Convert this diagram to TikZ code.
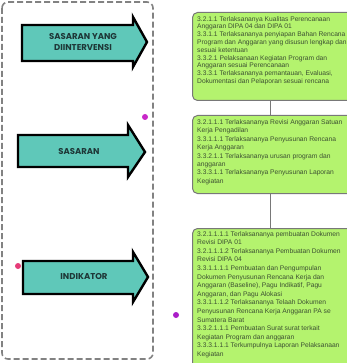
\documentclass[tikz,border=0pt]{standalone}
\usepackage{fontspec}
\setmainfont{Liberation Sans}
\newfontfamily\arrowfont{Poppins}
\usetikzlibrary{calc}
\definecolor{teal1}{RGB}{95,200,185}
\definecolor{gfill}{RGB}{180,243,110}
\definecolor{gline}{RGB}{120,120,120}
\definecolor{gtxt}{RGB}{60,80,50}
\definecolor{atxt}{RGB}{30,55,55}
\definecolor{dashc}{RGB}{130,130,130}
\tikzset{
  arrowbody/.style={fill=teal1,draw=black,line width=2.4pt,line join=miter},
  arrowlabel/.style={font=\arrowfont\bfseries\fontsize{8.5}{11}\selectfont,text=atxt,align=center,inner sep=0pt},
  gbox/.style={draw=gline,fill=gfill,rounded corners=5pt,line width=1pt,minimum width=160pt,inner sep=0pt,anchor=north west},
  gtext/.style={text=gtxt,align=left,inner sep=0pt,anchor=north west,font=\fontsize{6.7}{7.8}\selectfont},
  conn/.style={draw=gline,line width=1pt},
  dotm/.style={circle,inner sep=0pt,minimum size=6pt},
}
\begin{document}
\begin{tikzpicture}[x=1pt,y=-1pt]
\useasboundingbox (0,0) rectangle (346,363);
% dashed frame
\draw[dashc,line width=1.6pt,dash pattern=on 6pt off 3pt,rounded corners=6pt] (2,2) rectangle (153,359);
% arrows
\draw[arrowbody] (22,25) -- (133,25) -- (133,17) -- (147,42) -- (133,67) -- (133,61) -- (22,61) -- cycle;
\node[arrowlabel] (a1) at (83,42) {SASARAN YANG\\DIINTERVENSI};
\draw[arrowbody] (18,135) -- (128,135) -- (128,125) -- (145,152) -- (128,177) -- (128,167) -- (18,167) -- cycle;
\node[arrowlabel] (a2) at (79,152) {SASARAN};
\draw[arrowbody] (23,261) -- (133,261) -- (133,252) -- (148,277) -- (133,302) -- (133,294) -- (23,294) -- cycle;
\node[arrowlabel] (a3) at (84,277) {INDIKATOR};
% green boxes
\node[gbox,minimum height=88pt] (b1) at (192,12) {};
\node[gtext] (t1) at (197,16) {3.2.1.1 Terlaksananya Kualitas Perencanaan\\Anggaran DIPA 04 dan DIPA 01\\3.3.1.1 Terlaksananya penyiapan Bahan Rencana\\Program dan Anggaran yang disusun lengkap dan\\sesuai ketentuan\\3.3.2.1 Pelaksanaan Kegiatan Program dan\\Anggaran sesuai Perencanaan\\3.3.3.1 Terlaksananya pemantauan, Evaluasi,\\Dokumentasi dan Pelaporan sesuai rencana};
\node[gbox,minimum height=78pt] (b2) at (192,115) {};
\node[gtext,font=\fontsize{6.7}{8.4}\selectfont] (t2) at (197,119.5) {3.2.1.1.1 Terlaksananya Revisi Anggaran Satuan\\Kerja Pengadilan\\3.3.1.1.1 Terlaksananya Penyusunan Rencana\\Kerja Anggaran\\3.3.2.1.1 Terlaksananya urusan program dan\\anggaran\\3.3.3.1.1 Terlaksananya Penyusunan Laporan\\Kegiatan};
\node[gbox,minimum height=150pt] (b3) at (192,228) {};
\node[gtext,font=\fontsize{6.7}{8.6}\selectfont] (t3) at (197,231) {3.2.1.1.1.1 Terlaksananya pembuatan Dokumen\\Revisi DIPA 01\\3.2.1.1.1.2 Terlaksananya Pembuatan Dokumen\\Revisi DIPA 04\\3.3.1.1.1.1 Pembuatan dan Pengumpulan\\Dokumen Penyusunan Rencana Kerja dan\\Anggaran (Baseline), Pagu Indikatif, Pagu\\Anggaran, dan Pagu Alokasi\\3.3.1.1.1.2 Terlaksananya Telaah Dokumen\\Penyusunan Rencana Kerja Anggaran PA se\\Sumatera Barat\\3.3.2.1.1.1 Pembuatan Surat surat terkait\\Kegiatan Program dan anggaran\\3.3.3.1.1.1 Terkumpulnya Laporan Pelaksanaan\\Kegiatan};
% connectors
\coordinate (cx) at (270,0);
\draw[conn] (b1.south -| cx) -- (b2.north -| cx);
\draw[conn] (b2.south -| cx) -- (b3.north -| cx);
% dots
\node[dotm,fill={rgb,255:red,200;green,40;blue,200}] (d1) at (145,117) {};
\node[dotm,fill={rgb,255:red,230;green,60;blue,120}] (d2) at (18,266) {};
\node[dotm,fill={rgb,255:red,170;green,30;blue,200}] (d3) at (176,315) {};
\end{tikzpicture}
\end{document}
